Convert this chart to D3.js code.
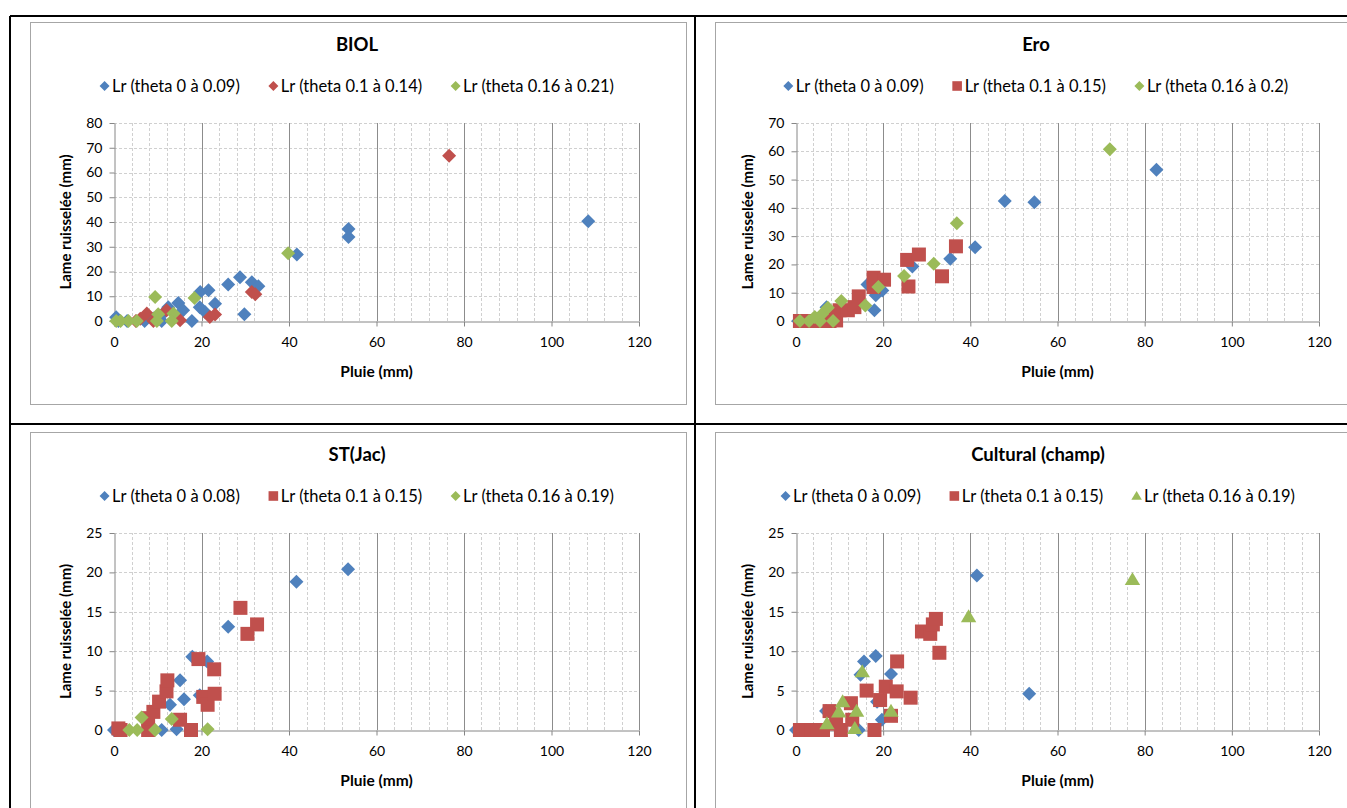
<!DOCTYPE html>
<html><head><meta charset="utf-8">
<script src="https://cdn.jsdelivr.net/npm/d3@7"></script>
<style>
body{margin:0;background:#fff}
svg{display:block}
text{font-family:Lato,"Open Sans",sans-serif;fill:#000}
</style>
</head><body>
<svg id="c" width="1347" height="808"></svg>
<script>
// ---------- data ----------
const xTicks = [0, 20, 40, 60, 80, 100, 120];
const biolYTicks = [0, 10, 20, 30, 40, 50, 60, 70, 80];
const eroYTicks = [0, 10, 20, 30, 40, 50, 60, 70];
const stYTicks = [0, 5, 10, 15, 20, 25];
const cultYTicks = [0, 5, 10, 15, 20, 25];

const titles = ["BIOL", "Ero", "ST(Jac)", "Cultural (champ)"];
const xAxisTitle = "Pluie (mm)";
const yAxisTitle = "Lame ruisselée (mm)";

const biolLabels = ["Lr (theta 0 à 0.09)", "Lr (theta 0.1 à 0.14)", "Lr (theta 0.16 à 0.21)"];
const eroLabels = ["Lr (theta 0 à 0.09)", "Lr (theta 0.1 à 0.15)", "Lr (theta 0.16 à 0.2)"];
const stLabels = ["Lr (theta 0 à 0.08)", "Lr (theta 0.1 à 0.15)", "Lr (theta 0.16 à 0.19)"];
const cultLabels = ["Lr (theta 0 à 0.09)", "Lr (theta 0.1 à 0.15)", "Lr (theta 0.16 à 0.19)"];

const biolBlue = [[0.5,1.5],[1,0],[3,0],[7,0],[9,1],[10.9,0],[12.4,5.6],[11.5,3.5],[14.7,7.3],[15.8,4.3],[17.8,0],[19.7,11.7],[19.6,5.6],[20.8,3.6],[21.6,12.4],[23.1,7],[26.1,14.7],[28.8,17.7],[29.8,2.7],[31.5,15.7],[33,14],[41.8,26.9],[53.6,37.2],[53.6,33.9],[108.4,40.3]];
const biolRed = [[5,0],[6,0.9],[7.5,3],[9,0],[12,4.3],[15.1,0.3],[21.9,1.6],[23.1,2.6],[31.5,11.7],[32.3,10.8],[76.6,66.8]];
const biolGreen = [[0.5,0],[1.5,0],[3.3,0],[5.2,0],[9.8,0],[9.4,9.7],[10.1,2.7],[13.6,3],[13.2,0],[18.4,9.3],[39.8,27.4]];

const eroBlue = [[0.5,0],[4,0],[7,4.9],[8,2],[16.4,12.9],[18,3.8],[18.3,9.1],[19.8,10.8],[26.7,19.3],[35.4,22],[41.1,26.1],[47.9,42.4],[54.7,42],[82.7,53.5]];
const eroRed = [[0.9,0],[3.2,0],[5.5,0],[7.7,0],[8.5,2.8],[9.2,0.2],[10,3.8],[11.9,3.8],[13.4,4.9],[14.4,8.7],[17.8,15.3],[17.8,12],[20.2,14.6],[25.5,21.6],[25.8,12.2],[28.2,23.5],[33.5,15.8],[36.7,26.4]];
const eroGreen = [[0.9,0],[3,0],[5.5,0],[8.5,0],[4.3,1.4],[6,2.5],[7.3,4.7],[10.4,7.1],[15.9,5.5],[18.9,12],[24.8,15.9],[31.6,20.2],[36.9,34.6],[72,60.7]];

const stBlue = [[0,0],[10.9,0],[12.8,3.2],[14.3,0.1],[15.1,6.3],[16,3.9],[17.9,9.3],[19.6,4.4],[21.3,8.7],[26.1,13.1],[41.7,18.8],[53.5,20.4]];
const stRed = [[1,0.2],[1.5,0],[7.8,0],[7.8,1.5],[9,2.3],[10.3,3.6],[12,4.9],[12.2,6.3],[15.1,1.3],[17.6,0],[19.3,9],[20.4,4.2],[21.4,3.2],[22.9,7.7],[23,4.6],[28.9,15.5],[30.5,12.2],[32.7,13.4]];
const stGreen = [[3.5,0],[5.3,0],[6.3,1.6],[9.4,0],[13.2,1.4],[21.4,0.1]];

const cultBlue = [[0,0],[6.9,2.4],[14.4,0],[14.8,7],[15.6,8.7],[18.3,9.4],[18.6,3.6],[19.7,1.3],[21.8,7.1],[41.5,19.6],[53.5,4.6]];
const cultRed = [[0.9,0],[2.5,0],[3.5,0],[5,0],[6.2,0],[7.7,2.4],[9.2,0.8],[10.3,0],[12.6,3.4],[12.9,1.3],[16.2,5],[18,0],[19.3,3.8],[20.6,5.5],[21.8,1.8],[23.1,4.9],[23.2,8.7],[26.3,4.1],[28.9,12.5],[30.8,12.2],[31.4,13.4],[32.1,14.1],[32.9,9.8]];
const cultGreen = [[7.1,0.8],[9.8,2.3],[10.7,3.6],[13.5,0.2],[13.9,2.4],[15.2,7.4],[21.8,2.4],[39.6,14.4],[77.2,19.1]];

// ---------- style ----------
const BLUE = "#4f81bd", RED = "#c0504d", GREEN = "#9bbb59";
const svg = d3.select("#c");

function shapePath(shape, r) {
  if (shape === "diamond") return `M0,${-r}L${r},0L0,${r}L${-r},0Z`;
  if (shape === "square") return `M${-r},${-r}H${r}V${r}H${-r}Z`;
  return `M0,${-r*1.05}L${r*1.1},${r*0.8}L${-r*1.1},${r*0.8}Z`;
}

svg.append("rect").attr("width",1347).attr("height",808).attr("fill","#fff");

const panels = [
  {title:titles[0], labels:biolLabels, yTicks:biolYTicks, series:[[biolBlue,BLUE,"diamond"],[biolRed,RED,"diamond"],[biolGreen,GREEN,"diamond"]],
   frame:[30,22,656,382], plot:[114,639,321,123], cx:357, ylx:66},
  {title:titles[1], labels:eroLabels, yTicks:eroYTicks, series:[[eroBlue,BLUE,"diamond"],[eroRed,RED,"square"],[eroGreen,GREEN,"diamond"]],
   frame:[715,22,640,382], plot:[796,1319,321,123], cx:1036, ylx:748},
  {title:titles[2], labels:stLabels, yTicks:stYTicks, series:[[stBlue,BLUE,"diamond"],[stRed,RED,"square"],[stGreen,GREEN,"diamond"]],
   frame:[30,432,656,400], plot:[114,639,730,533], cx:357, ylx:66},
  {title:titles[3], labels:cultLabels, yTicks:cultYTicks, series:[[cultBlue,BLUE,"diamond"],[cultRed,RED,"square"],[cultGreen,GREEN,"triangle"]],
   frame:[715,432,640,400], plot:[796,1319,730,533], cx:1038, ylx:748}
];

panels.forEach(p => {
  const g = svg.append("g");
  const [fx,fy,fw,fh] = p.frame;
  const [x0,x1,y0,y1] = p.plot;
  g.append("rect").attr("x",fx+0.5).attr("y",fy+0.5).attr("width",fw).attr("height",fh)
    .attr("fill","#fff").attr("stroke","#a6a6a6");
  const yMax = p.yTicks[p.yTicks.length-1];
  const x = d3.scaleLinear().domain([0,120]).range([x0,x1]);
  const y = d3.scaleLinear().domain([0,yMax]).range([y0,y1]);

  const minor = d3.range(4,121,4).filter(v => v % 20 !== 0);
  g.selectAll(".mv").data(minor).join("line")
    .attr("x1",d=>Math.round(x(d))+0.5).attr("x2",d=>Math.round(x(d))+0.5)
    .attr("y1",y0).attr("y2",y1)
    .attr("stroke","#d0d0d0").attr("stroke-dasharray","3,2");
  g.selectAll(".hg").data(p.yTicks.slice(1)).join("line")
    .attr("x1",x0).attr("x2",x1)
    .attr("y1",d=>Math.round(y(d))+0.5).attr("y2",d=>Math.round(y(d))+0.5)
    .attr("stroke","#d0d0d0").attr("stroke-dasharray","3,2");
  g.selectAll(".mg").data(xTicks.slice(1)).join("line")
    .attr("x1",d=>Math.round(x(d))+0.5).attr("x2",d=>Math.round(x(d))+0.5)
    .attr("y1",y0).attr("y2",y1)
    .attr("stroke","#8c8c8c");

  const ax = g.append("g").attr("transform",`translate(0,${Math.round(y0)+0.5})`)
    .call(d3.axisBottom(x).tickValues(xTicks).tickSize(5).tickSizeOuter(0).tickPadding(11));
  const ay = g.append("g").attr("transform",`translate(${Math.round(x0)+0.5},0)`)
    .call(d3.axisLeft(y).tickValues(p.yTicks).tickSize(5).tickSizeOuter(0).tickPadding(7));
  [ax,ay].forEach(a => {
    a.select(".domain").attr("stroke","#868686");
    a.selectAll(".tick line").attr("stroke","#868686");
    a.selectAll(".tick text").style("font-size","14px").style("font-family","Lato, sans-serif").attr("fill","#000");
  });

  p.series.forEach(([data,color,shape]) => {
    const r = shape === "triangle" ? 7 : 7;
    g.selectAll(null).data(data).join("path")
      .attr("transform",d=>`translate(${x(d[0])},${y(d[1])})`)
      .attr("d",shapePath(shape,r))
      .attr("fill",color);
  });

  g.append("text").attr("x",p.cx).attr("y",fy+29).attr("text-anchor","middle")
    .style("font-size","18.5px").style("font-weight","bold").text(p.title);
  g.append("text").attr("x",(x0+x1)/2).attr("y",y0+56).attr("text-anchor","middle")
    .style("font-size","15.5px").style("font-weight","bold").text(xAxisTitle);
  g.append("text").attr("transform",`translate(${p.ylx},${(y0+y1)/2}) rotate(-90)`)
    .attr("text-anchor","middle").attr("dy","0.35em")
    .style("font-size","15px").style("font-weight","bold").text(yAxisTitle);

  const ly = fy + 64;
  const lg = g.append("g");
  const items = p.labels.map((lab,i) => {
    const it = lg.append("g");
    const sh = p.series[i][2];
    it.append("path").attr("transform","translate(4.5,0)").attr("d",shapePath(sh, sh==="diamond"?5:4.8)).attr("fill",p.series[i][1]);
    const t = it.append("text").attr("x",12).attr("dy","0.35em").style("font-size","16.5px").text(lab);
    return {it, w: 12 + t.node().getComputedTextLength()};
  });
  const gap = 29;
  const total = d3.sum(items, d=>d.w) + gap*(items.length-1);
  let cx = p.cx - total/2;
  items.forEach(d => { d.it.attr("transform",`translate(${cx},${ly})`); cx += d.w + gap; });
});

const bl = [[10,16,1347,16],[10,16,10,808],[695,16,695,808],[10,424,1347,424]];
svg.selectAll(".bl").data(bl).join("line")
  .attr("x1",d=>d[0]).attr("y1",d=>d[1]).attr("x2",d=>d[2]).attr("y2",d=>d[3])
  .attr("stroke","#000").attr("stroke-width",2);
</script>
</body></html>
